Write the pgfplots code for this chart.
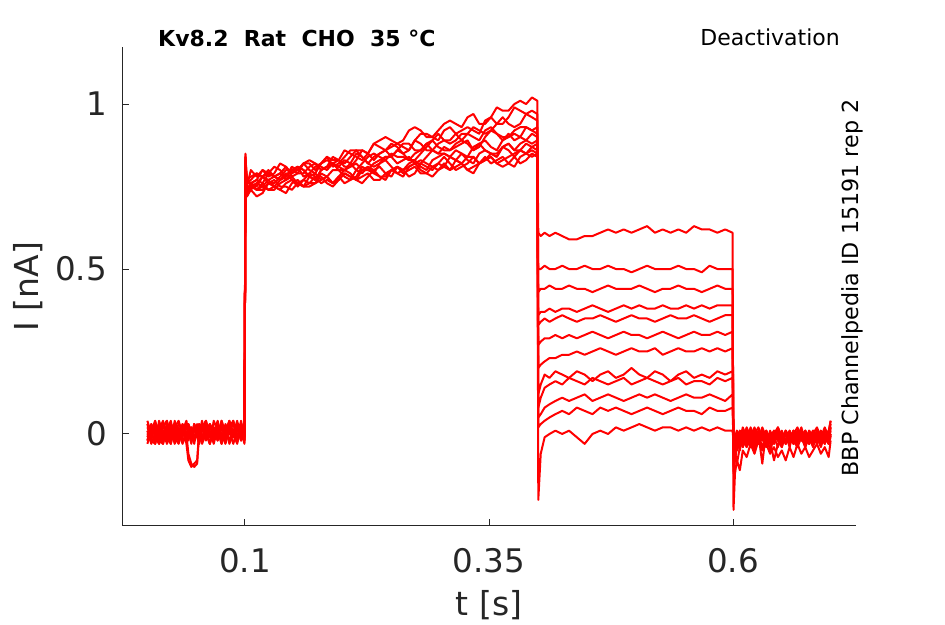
\documentclass[border=0pt]{standalone}
\usepackage{pgfplots}
\pgfplotsset{compat=1.18}
\usepackage{pgfplotstable}
\usepackage{fontspec}
\setmainfont{DejaVu Sans}
\definecolor{axgray}{HTML}{262626}
\pgfplotstableread{
t a b c d e f g h i j k l
0.000 0.02 -0.02 0.03 0.00 -0.03 0.01 0.04 -0.01 0.00 0.03 -0.02 0.01
0.004 -0.01 0.03 -0.02 0.02 0.01 -0.03 0.00 0.03 -0.02 0.01 0.02 -0.01
0.008 0.03 0.00 -0.03 0.01 0.04 0.00 -0.02 -0.01 0.03 -0.03 0.00 0.02
0.012 0.00 -0.03 0.01 -0.02 0.00 0.03 0.02 -0.03 0.01 0.04 -0.01 -0.02
0.016 -0.03 0.02 0.04 0.03 -0.02 -0.01 0.01 0.02 -0.01 0.00 0.03 -0.03
0.020 0.01 0.04 -0.01 -0.01 0.03 0.02 -0.03 0.04 0.00 -0.02 0.01 0.03
0.024 0.04 -0.01 0.00 -0.03 0.01 0.03 0.00 -0.02 0.03 0.02 -0.03 0.00
0.028 -0.02 0.01 0.03 0.02 -0.03 -0.01 0.03 0.00 -0.02 0.03 0.04 0.01
0.032 0.02 -0.02 -0.01 0.04 0.00 -0.03 0.01 0.03 0.01 -0.01 -0.01 -0.02
0.036 -0.01 0.03 0.02 0.00 0.02 0.01 -0.02 0.01 -0.03 0.01 0.02 0.03
0.040 0.03 0.00 -0.03 0.02 -0.01 0.04 0.00 -0.02 0.00 -0.02 -0.01 -0.01
0.042 0.00 -0.02 -0.08 0.01 0.03 0.00 0.02 0.01 -0.06 0.03 0.01 0.02
0.045 -0.02 0.02 -0.10 -0.02 0.01 0.02 -0.01 -0.03 -0.09 0.00 -0.02 0.00
0.048 0.01 -0.01 -0.09 0.03 -0.02 -0.01 0.03 0.02 -0.10 0.02 0.03 -0.03
0.051 0.03 0.01 -0.08 0.00 0.02 0.01 0.00 -0.01 -0.09 -0.01 0.00 0.02
0.053 -0.01 0.03 0.01 -0.03 0.00 0.03 -0.02 0.02 0.00 -0.03 0.02 0.01
0.056 0.02 -0.02 0.03 0.01 0.04 -0.01 0.01 -0.03 0.02 0.02 -0.01 -0.02
0.060 0.00 0.01 -0.01 0.03 -0.02 0.02 0.04 0.00 -0.01 0.04 0.01 0.03
0.064 -0.03 0.03 0.02 -0.01 0.01 -0.03 0.00 0.03 0.03 -0.01 -0.03 0.00
0.068 0.04 -0.01 0.00 0.02 -0.03 0.01 -0.02 0.01 -0.02 0.01 0.02 -0.01
0.072 0.01 0.02 0.04 -0.02 0.02 0.00 0.03 -0.02 0.01 0.03 -0.01 0.02
0.076 -0.02 0.00 -0.01 0.04 0.00 0.03 -0.01 0.02 -0.03 0.00 0.04 -0.03
0.080 0.03 -0.03 0.02 0.00 -0.02 -0.02 0.02 -0.01 0.02 -0.02 0.00 0.01
0.084 0.00 0.02 -0.02 0.01 0.03 0.01 -0.03 0.04 0.00 0.02 -0.02 0.04
0.088 -0.01 0.04 0.01 -0.03 0.01 0.03 0.00 0.00 0.04 -0.01 0.01 -0.01
0.092 0.02 -0.01 0.03 0.01 -0.01 -0.01 0.04 -0.03 -0.01 0.03 -0.02 0.02
0.096 -0.02 0.01 -0.01 0.03 0.04 0.00 -0.01 0.02 0.02 0.00 0.03 -0.02
0.0995 0.01 -0.03 0.02 0.00 -0.02 0.02 0.01 -0.02 -0.01 0.04 -0.01 0.00
0.1005 0.84 0.80 0.82 0.79 0.85 0.81 0.83 0.80 0.82 0.84 0.78 0.83
0.102 0.74 0.73 0.76 0.72 0.75 0.74 0.73 0.72 0.76 0.75 0.73 0.77
0.106 0.76 0.76 0.76 0.74 0.80 0.74 0.76 0.75 0.77 0.75 0.76 0.78
0.112 0.77 0.74 0.77 0.72 0.78 0.76 0.75 0.74 0.79 0.76 0.74 0.79
0.118 0.76 0.76 0.80 0.73 0.80 0.75 0.78 0.74 0.78 0.78 0.75 0.78
0.124 0.79 0.74 0.79 0.76 0.78 0.74 0.80 0.76 0.77 0.76 0.77 0.79
0.130 0.78 0.75 0.78 0.75 0.79 0.74 0.78 0.77 0.78 0.76 0.75 0.81
0.136 0.77 0.77 0.79 0.74 0.82 0.76 0.77 0.75 0.79 0.78 0.74 0.80
0.142 0.78 0.79 0.81 0.73 0.81 0.77 0.78 0.75 0.77 0.80 0.76 0.78
0.148 0.80 0.77 0.78 0.76 0.79 0.78 0.81 0.74 0.79 0.80 0.77 0.80
0.154 0.81 0.76 0.79 0.77 0.80 0.76 0.80 0.76 0.81 0.79 0.75 0.81
0.160 0.80 0.75 0.82 0.75 0.82 0.75 0.82 0.77 0.80 0.79 0.77 0.78
0.166 0.78 0.78 0.83 0.76 0.80 0.75 0.82 0.76 0.78 0.81 0.79 0.79
0.172 0.77 0.79 0.82 0.78 0.79 0.76 0.80 0.76 0.77 0.82 0.78 0.81
0.178 0.80 0.77 0.80 0.78 0.82 0.77 0.82 0.79 0.80 0.81 0.76 0.82
0.184 0.81 0.78 0.81 0.76 0.84 0.78 0.84 0.78 0.81 0.80 0.77 0.83
0.190 0.82 0.80 0.84 0.75 0.83 0.76 0.81 0.76 0.82 0.82 0.76 0.82
0.196 0.81 0.80 0.83 0.77 0.83 0.78 0.82 0.78 0.80 0.83 0.77 0.81
0.202 0.80 0.78 0.86 0.79 0.82 0.80 0.84 0.76 0.80 0.81 0.79 0.83
0.208 0.82 0.77 0.85 0.78 0.84 0.79 0.86 0.77 0.81 0.81 0.78 0.82
0.214 0.85 0.78 0.84 0.77 0.86 0.77 0.86 0.80 0.82 0.83 0.77 0.80
0.220 0.84 0.81 0.83 0.76 0.84 0.78 0.86 0.79 0.80 0.86 0.80 0.82
0.226 0.82 0.80 0.85 0.78 0.82 0.79 0.85 0.81 0.80 0.85 0.81 0.84
0.232 0.81 0.79 0.88 0.80 0.84 0.77 0.88 0.80 0.82 0.83 0.79 0.85
0.238 0.82 0.82 0.87 0.81 0.85 0.77 0.89 0.78 0.83 0.85 0.78 0.84
0.244 0.84 0.83 0.86 0.79 0.86 0.79 0.90 0.78 0.84 0.86 0.77 0.83
0.250 0.84 0.81 0.87 0.78 0.88 0.80 0.89 0.80 0.84 0.84 0.80 0.85
0.256 0.86 0.79 0.88 0.81 0.87 0.79 0.88 0.81 0.82 0.86 0.81 0.84
0.262 0.85 0.80 0.87 0.80 0.85 0.78 0.89 0.80 0.83 0.88 0.79 0.84
0.268 0.83 0.82 0.86 0.78 0.86 0.81 0.92 0.81 0.84 0.88 0.80 0.83
0.274 0.83 0.83 0.89 0.79 0.89 0.82 0.93 0.82 0.82 0.86 0.81 0.85
0.280 0.85 0.81 0.91 0.82 0.88 0.80 0.92 0.83 0.82 0.86 0.79 0.86
0.286 0.87 0.80 0.91 0.81 0.86 0.79 0.90 0.82 0.84 0.88 0.79 0.88
0.292 0.89 0.83 0.90 0.80 0.86 0.78 0.90 0.81 0.86 0.89 0.81 0.86
0.298 0.87 0.84 0.89 0.82 0.88 0.80 0.92 0.80 0.85 0.91 0.82 0.85
0.304 0.86 0.85 0.92 0.84 0.89 0.82 0.94 0.81 0.85 0.89 0.81 0.87
0.310 0.86 0.84 0.93 0.82 0.88 0.80 0.95 0.84 0.84 0.89 0.80 0.86
0.316 0.88 0.83 0.91 0.80 0.89 0.81 0.94 0.83 0.86 0.91 0.83 0.87
0.322 0.89 0.85 0.92 0.81 0.91 0.82 0.93 0.82 0.85 0.89 0.82 0.88
0.328 0.88 0.83 0.93 0.82 0.91 0.80 0.96 0.84 0.84 0.91 0.80 0.89
0.334 0.86 0.82 0.92 0.84 0.90 0.79 0.97 0.84 0.87 0.93 0.81 0.86
0.340 0.87 0.85 0.91 0.82 0.89 0.82 0.94 0.82 0.88 0.92 0.82 0.88
0.346 0.90 0.86 0.95 0.83 0.92 0.83 0.94 0.83 0.86 0.91 0.84 0.89
0.352 0.92 0.85 0.96 0.84 0.93 0.84 0.96 0.85 0.85 0.92 0.82 0.87
0.358 0.91 0.84 0.94 0.82 0.91 0.82 0.99 0.84 0.85 0.94 0.83 0.86
0.364 0.89 0.87 0.94 0.83 0.90 0.81 0.98 0.87 0.87 0.96 0.84 0.89
0.370 0.91 0.88 0.96 0.84 0.90 0.82 0.98 0.86 0.88 0.94 0.82 0.90
0.376 0.89 0.86 0.99 0.85 0.92 0.84 1.00 0.84 0.86 0.93 0.81 0.91
0.382 0.90 0.86 0.98 0.86 0.93 0.82 1.01 0.86 0.88 0.94 0.84 0.90
0.388 0.93 0.88 0.97 0.85 0.93 0.83 1.00 0.85 0.89 0.97 0.85 0.89
0.394 0.92 0.87 0.98 0.86 0.92 0.85 1.02 0.87 0.88 0.96 0.84 0.91
0.3995 0.91 0.88 0.97 0.85 0.93 0.84 1.01 0.86 0.89 0.95 0.85 0.90
0.4005 0.61 0.50 0.43 0.36 0.33 0.27 0.20 0.12 0.08 0.05 0.02 -0.20
0.403 0.60 0.50 0.44 0.37 0.34 0.28 0.21 0.15 0.11 0.06 0.03 -0.06
0.407 0.61 0.51 0.44 0.37 0.35 0.29 0.22 0.18 0.14 0.08 0.04 -0.01
0.412 0.60 0.50 0.45 0.38 0.34 0.29 0.23 0.17 0.15 0.09 0.05 0.00
0.418 0.61 0.50 0.44 0.37 0.35 0.30 0.23 0.19 0.16 0.10 0.06 0.01
0.425 0.60 0.51 0.44 0.38 0.36 0.29 0.24 0.18 0.15 0.11 0.07 0.00
0.432 0.59 0.50 0.45 0.38 0.35 0.30 0.24 0.17 0.17 0.10 0.06 0.01
0.440 0.59 0.50 0.44 0.37 0.34 0.29 0.25 0.19 0.16 0.11 0.08 -0.01
0.448 0.60 0.51 0.44 0.38 0.35 0.30 0.24 0.18 0.15 0.12 0.07 -0.03
0.456 0.60 0.50 0.43 0.39 0.35 0.31 0.25 0.16 0.17 0.10 0.06 0.00
0.464 0.61 0.50 0.44 0.38 0.36 0.30 0.26 0.18 0.16 0.11 0.08 0.01
0.472 0.62 0.51 0.45 0.37 0.35 0.29 0.25 0.19 0.15 0.12 0.07 0.00
0.480 0.61 0.50 0.44 0.38 0.34 0.30 0.24 0.17 0.16 0.11 0.08 0.02
0.488 0.62 0.50 0.44 0.39 0.35 0.31 0.25 0.18 0.17 0.10 0.07 0.01
0.496 0.61 0.49 0.44 0.38 0.36 0.30 0.26 0.20 0.15 0.11 0.06 0.02
0.504 0.62 0.50 0.45 0.39 0.35 0.30 0.25 0.18 0.16 0.12 0.07 0.03
0.512 0.63 0.51 0.44 0.38 0.35 0.29 0.25 0.17 0.17 0.11 0.08 0.02
0.520 0.61 0.50 0.43 0.38 0.34 0.30 0.26 0.19 0.16 0.12 0.07 0.01
0.528 0.62 0.50 0.44 0.39 0.35 0.31 0.24 0.18 0.15 0.11 0.06 0.02
0.536 0.61 0.50 0.44 0.38 0.36 0.30 0.25 0.16 0.16 0.10 0.07 0.02
0.544 0.62 0.51 0.45 0.38 0.35 0.29 0.26 0.18 0.17 0.11 0.08 0.01
0.552 0.61 0.50 0.44 0.39 0.35 0.30 0.25 0.19 0.15 0.12 0.07 0.02
0.560 0.63 0.50 0.44 0.38 0.36 0.31 0.25 0.17 0.16 0.11 0.07 0.01
0.568 0.62 0.49 0.43 0.39 0.35 0.30 0.26 0.18 0.16 0.11 0.06 0.02
0.576 0.62 0.51 0.44 0.38 0.34 0.30 0.25 0.17 0.15 0.12 0.08 0.01
0.584 0.61 0.50 0.45 0.39 0.35 0.31 0.26 0.19 0.17 0.11 0.07 0.02
0.592 0.62 0.50 0.44 0.39 0.36 0.30 0.25 0.18 0.16 0.10 0.07 0.01
0.5995 0.61 0.50 0.44 0.39 0.36 0.31 0.26 0.19 0.17 0.12 0.08 0.01
0.6005 -0.23 -0.12 -0.10 -0.08 -0.07 -0.06 -0.05 -0.04 -0.04 -0.03 -0.03 -0.02
0.602 -0.12 -0.08 -0.05 -0.06 -0.03 -0.05 -0.01 -0.04 0.00 -0.03 -0.01 0.00
0.604 -0.08 -0.04 -0.09 -0.02 -0.05 -0.01 -0.03 0.01 -0.02 -0.01 0.01 -0.02
0.607 -0.11 -0.01 -0.04 -0.05 0.00 -0.03 0.01 -0.02 -0.01 -0.04 -0.01 0.01
0.610 -0.05 -0.04 -0.01 0.00 -0.04 0.01 -0.02 0.02 -0.03 0.00 -0.03 -0.01
0.614 -0.07 0.00 -0.03 -0.03 0.01 -0.02 -0.04 -0.01 0.01 -0.02 0.00 0.02
0.618 -0.03 -0.03 0.01 -0.01 -0.02 -0.04 0.00 -0.03 -0.01 0.02 -0.02 -0.01
0.622 -0.06 0.01 -0.02 0.02 -0.05 0.00 -0.03 0.01 -0.04 -0.01 0.01 0.00
0.626 -0.02 -0.02 0.00 -0.02 0.00 -0.03 0.01 -0.02 0.00 -0.03 -0.01 0.02
0.630 -0.05 0.02 -0.04 0.00 -0.09 0.01 -0.02 0.00 -0.02 0.01 -0.04 -0.01
0.634 -0.03 -0.01 -0.01 -0.03 0.01 -0.02 0.00 -0.04 0.01 -0.02 0.00 0.01
0.638 -0.06 0.00 -0.03 0.01 -0.02 0.00 -0.05 -0.01 -0.03 0.00 -0.02 -0.02
0.642 -0.04 -0.03 0.00 -0.02 -0.08 -0.01 -0.01 0.01 0.00 -0.03 0.01 0.00
0.646 -0.07 0.01 -0.02 0.00 -0.03 -0.04 0.00 -0.02 -0.02 0.02 -0.01 0.02
0.650 -0.05 -0.02 0.01 -0.04 -0.01 0.00 -0.03 0.00 -0.04 -0.01 0.00 -0.01
0.654 -0.08 0.00 -0.03 0.01 0.00 -0.02 0.01 -0.03 0.00 -0.02 -0.03 0.01
0.658 -0.04 -0.04 0.00 -0.01 -0.02 0.01 -0.02 -0.01 -0.03 0.01 -0.01 -0.02
0.662 -0.07 0.01 -0.02 -0.03 0.01 -0.03 0.00 0.01 -0.01 -0.03 0.00 0.00
0.666 -0.03 -0.01 -0.04 0.00 -0.03 0.00 -0.04 -0.02 0.01 0.00 -0.02 0.02
0.670 -0.06 0.02 -0.01 -0.02 0.00 -0.02 0.01 0.00 -0.02 -0.01 0.01 -0.01
0.674 -0.04 -0.02 -0.03 0.01 -0.04 0.01 -0.02 -0.03 0.00 -0.04 -0.01 0.01
0.678 -0.07 0.00 0.00 -0.03 -0.01 -0.01 0.00 0.01 -0.03 0.01 -0.03 -0.02
0.682 -0.05 -0.03 -0.02 0.00 0.01 -0.04 -0.03 -0.01 0.01 -0.02 0.00 0.00
0.686 -0.03 0.01 0.01 -0.02 -0.02 0.00 0.01 -0.03 -0.01 0.00 -0.02 0.02
0.690 -0.06 -0.01 -0.03 0.01 0.00 -0.02 -0.02 0.00 -0.04 -0.01 0.01 -0.01
0.694 -0.04 0.02 0.00 -0.01 -0.03 0.01 0.00 -0.02 0.00 -0.03 -0.01 0.01
0.698 -0.07 -0.01 -0.02 -0.03 0.01 -0.01 -0.03 0.01 -0.02 0.01 -0.03 0.00
0.700 -0.02 0.03 0.01 0.00 -0.01 0.02 0.02 -0.01 0.00 0.04 -0.01 0.04
}\tr
\begin{document}
\begin{tikzpicture}
\path[use as bounding box] (0,0) rectangle (945pt,624pt);
\begin{axis}[
  at={(122pt,98pt)}, anchor=south west,
  scale only axis, width=734pt, height=479pt,
  xmin=-0.026, xmax=0.726, ymin=-0.279, ymax=1.173,
  axis x line*=bottom, axis y line*=left,
  axis line style={draw=axgray, line width=1pt, -},
  xtick={0.1,0.35,0.6}, ytick={0,0.5,1},
  tick align=inside, major tick length=7pt,
  tick style={draw=axgray, line width=1pt},
  ticklabel style={font=\fontsize{32.5}{38}\selectfont, text=axgray},
  /pgf/number format/assume math mode=true,
  xticklabel style={anchor=base, yshift=-46pt, inner sep=0pt},
  yticklabel style={anchor=east, inner sep=0pt, xshift=-15pt},
  xlabel={t [s]}, ylabel={I [nA]},
  label style={font=\fontsize{33}{39}\selectfont, text=axgray},
  xlabel style={at={(axis description cs:0.5,-0.1858)}, anchor=base, inner sep=0pt},
  ylabel style={at={(axis description cs:-0.1144,0.5)}, anchor=base, inner sep=0pt},
  clip=false,
]
\pgfplotsinvokeforeach{a,b,c,d,e,f,g,h,i,j,k,l}{
  \addplot[red, line width=2pt, line join=round, no markers] table[x=t,y=#1]{\tr};
}
\end{axis}
\node[anchor=base west, font=\bfseries\fontsize{22}{26}\selectfont, inner sep=0pt] at (158pt,577pt) {Kv8.2\ \ Rat\ \ CHO\ \ 35 °C};
\node[anchor=base east, font=\fontsize{22}{26}\selectfont, inner sep=0pt] at (840pt,578pt) {Deactivation};
\node[rotate=90, anchor=base, font=\fontsize{22.2}{26}\selectfont, inner sep=0pt] at (858pt,336pt) {BBP Channelpedia ID 15191 rep 2};
\end{tikzpicture}
\end{document}
